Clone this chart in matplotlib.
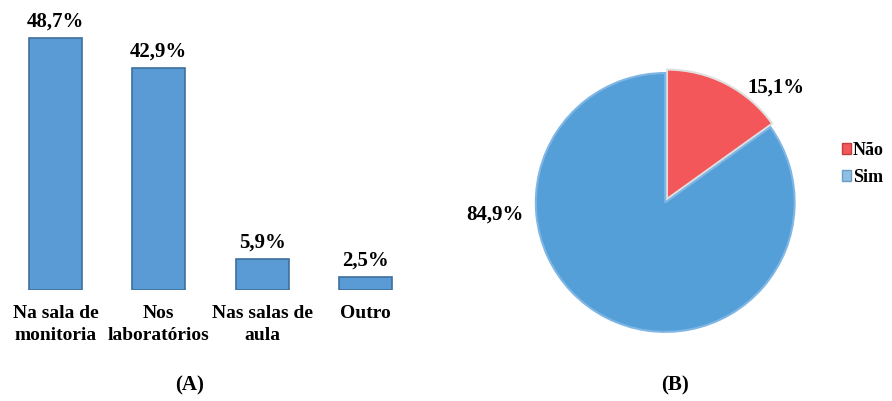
import matplotlib
matplotlib.use("Agg")
import matplotlib.pyplot as plt
from matplotlib.patches import Patch

# Data
categories = ["Na sala de\nmonitoria", "Nos\nlaboratórios", "Nas salas de\naula", "Outro"]
values = [48.7, 42.9, 5.9, 2.5]
value_labels = ["48,7%", "42,9%", "5,9%", "2,5%"]

pie_labels = ["Não", "Sim"]
pie_values = [15.1, 84.9]
pie_value_labels = ["15,1%", "84,9%"]

plt.rcParams['font.family'] = ['Liberation Serif', 'DejaVu Serif']
plt.rcParams['font.weight'] = 'bold'

fig = plt.figure(figsize=(8.92, 4.01), dpi=100)

bar_color = "#5B9BD5"
edge_color = "#3E6F9E"
red = "#F4575A"
pie_blue = "#559FD9"

# ---- Bar chart (A)
ax = fig.add_axes([3.75/892, 111/401, 413.5/892, 284.4/401])
x = list(range(len(values)))
bars = ax.bar(x, values, width=0.51, color=bar_color, edgecolor=edge_color, linewidth=1.2)
for xi, v, lab in zip(x, values, value_labels):
    ax.annotate(lab, (xi, v), xytext=(0, 5), textcoords="offset points",
                ha="center", va="bottom", fontsize=15, fontweight="bold")
ax.set_xlim(-0.5, 3.5)
ax.set_ylim(0, 55)
ax.set_xticks(x)
ax.set_xticklabels(categories, fontsize=14, fontweight="bold", linespacing=1.4)
ax.tick_params(axis="x", length=0, pad=11)
ax.set_yticks([])
for s in ax.spines.values():
    s.set_visible(False)

# ---- Pie chart (B)
pax = fig.add_axes([535/892, 70/401, 264/892, 264/401])
wedges, _ = pax.pie(pie_values, colors=[red, pie_blue], startangle=90, counterclock=False,
                    explode=[0, 0.03], radius=1,
                    wedgeprops=dict(edgecolor="#7FB6E4", linewidth=1.5))
wedges[0].set_edgecolor("#E0E0E0")
pax.set_xlim(-1.02, 1.02)
pax.set_ylim(-1.02, 1.02)
pax.set_aspect("equal")
pax.text(0.84, 0.86, pie_value_labels[0], ha="center", va="center", fontsize=15, fontweight="bold")
pax.text(-1.33, -0.12, pie_value_labels[1], ha="center", va="center", fontsize=15, fontweight="bold")

handles = [Patch(facecolor=red, edgecolor="#C04040"), Patch(facecolor="#8EC0E6", edgecolor="#6A9CC4")]
fig.legend(handles, pie_labels, loc="center left", bbox_to_anchor=(842/892, 1 - 164/401),
           frameon=False, fontsize=13, handlelength=0.5, handleheight=0.5, handletextpad=0.1,
           labelspacing=0.55, borderpad=0, borderaxespad=0)

fig.text(190/892, 1 - 385/401, "(A)", ha="center", va="center", fontsize=15, fontweight="bold")
fig.text(675/892, 1 - 385/401, "(B)", ha="center", va="center", fontsize=15, fontweight="bold")

fig.savefig("out.png", dpi=100, facecolor="white")
